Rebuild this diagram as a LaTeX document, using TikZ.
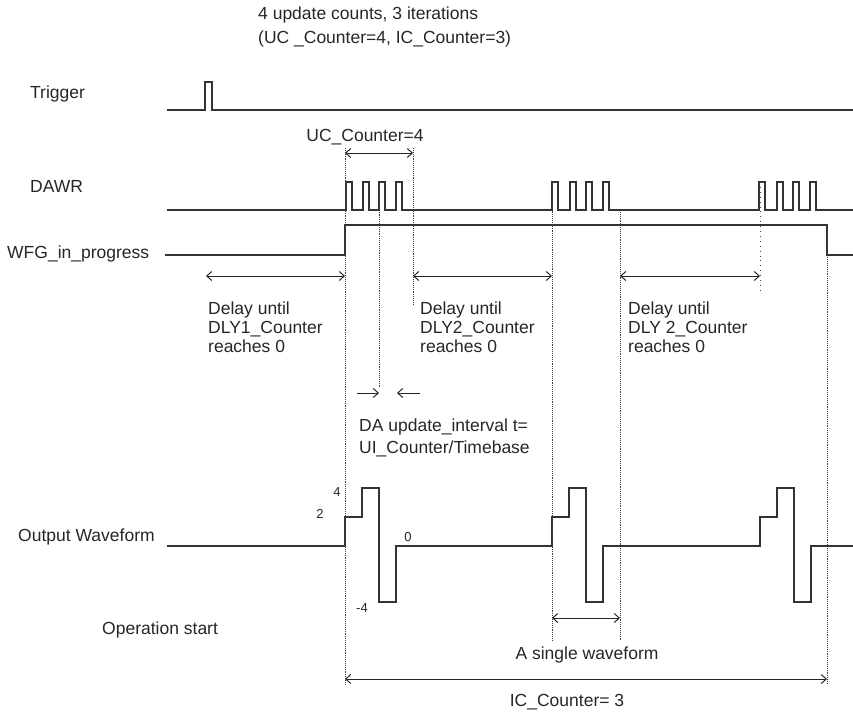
\documentclass[tikz,border=0pt]{standalone}
\usepackage{fontspec}
\setmainfont{Liberation Sans}
\usetikzlibrary{arrows.meta}
\begin{document}
\begin{tikzpicture}[x=1pt,y=-1pt,
  sig/.style={line width=1.3pt, draw=black!80, line join=miter},
  guide/.style={densely dotted, line width=0.9pt, draw=black!75},
  dimarrow/.style={line width=1pt, draw=black!85, {Straight Barb[length=5pt,width=9pt]}-{Straight Barb[length=5pt,width=9pt]}},
  onearrow/.style={line width=1pt, draw=black!85, -{Straight Barb[length=5pt,width=9pt]}},
  lbl/.style={font=\fontsize{17.5}{20}\selectfont, text=black!85, inner sep=0pt},
  num/.style={font=\fontsize{13}{15}\selectfont, text=black!85, inner sep=0pt}]
\useasboundingbox (0,0) rectangle (853,712);

% --- titles and row labels
\node[lbl, anchor=base west] (t1) at (258,19) {4 update counts, 3 iterations};
\node[lbl, anchor=base west] (t2) at (258,43) {(UC \_Counter=4, IC\_Counter=3)};
\node[lbl, anchor=base west] (ltrig) at (30,98) {Trigger};
\node[lbl, anchor=base west] (ldawr) at (30,192) {DAWR};
\node[lbl, anchor=base west] (lwfg) at (7,258) {WFG\_in\_progress};
\node[lbl, anchor=base west] (lout) at (18,541) {Output Waveform};
\node[lbl, anchor=base west] (lop) at (102,634) {Operation start};

% --- signals
\draw[sig] (167,110) -- (205,110) -- (205,82) -- (212,82) -- (212,110) -- (853,110);
\draw[sig] (167,210)
  \foreach \r in {346,363,379,396,552,570,586,603,759,777,793,810}{ -- (\r,210) -- (\r,182) -- (\r+6,182) -- (\r+6,210)}
  -- (853,210);
\draw[sig] (165,255) -- (345,255) -- (345,225) -- (827,225) -- (827,255) -- (853,255);
\draw[sig] (167,546)
  \foreach \s in {345,552,760}{ -- (\s,546) -- (\s,517) -- (\s+17,517) -- (\s+17,488) -- (\s+34,488) -- (\s+34,602) -- (\s+51,602) -- (\s+51,546)}
  -- (853,546);

% --- dotted guides
\coordinate (g1t) at (345,148); \coordinate (g1b) at (345,684);
\coordinate (g2t) at (413,148); \coordinate (g2b) at (413,305);
\coordinate (g3t) at (379,185); \coordinate (g3b) at (379,388);
\coordinate (g4t) at (552,182); \coordinate (g4b) at (552,640);
\coordinate (g5t) at (620,210); \coordinate (g5b) at (620,640);
\coordinate (g6t) at (760,182); \coordinate (g6b) at (760,292);
\coordinate (g7t) at (827,225); \coordinate (g7b) at (827,684);
\draw[guide] (g1t) -- (g1b);
\draw[guide] (g2t) -- (g2b);
\draw[guide] (g3t) -- (g3b);
\draw[guide] (g4t) -- (g4b);
\draw[guide] (g5t) -- (g5b);
\draw[guide, loosely dotted] (g6t) -- (g6b);
\draw[guide] (g7t) -- (g7b);

% --- UC counter
\node[lbl, anchor=base] (uc) at (365,141) {UC\_Counter=4};
\coordinate (uca) at (345,153); \coordinate (ucb) at (413,153);
\draw[dimarrow] (uca) -- (ucb);

% --- delays
\coordinate (d1a) at (206,276); \coordinate (d1b) at (345,276);
\coordinate (d2a) at (413,276); \coordinate (d2b) at (552,276);
\coordinate (d3a) at (620,276); \coordinate (d3b) at (760,276);
\draw[dimarrow] (d1a) -- (d1b);
\draw[dimarrow] (d2a) -- (d2b);
\draw[dimarrow] (d3a) -- (d3b);
\node[lbl, anchor=north west, align=left, font=\fontsize{17.5}{19}\selectfont] (dl1) at (208,302) {Delay until\\DLY1\_Counter\\reaches 0};
\node[lbl, anchor=north west, align=left, font=\fontsize{17.5}{19}\selectfont] (dl2) at (420,302) {Delay until\\DLY2\_Counter\\reaches 0};
\node[lbl, anchor=north west, align=left, font=\fontsize{17.5}{19}\selectfont] (dl3) at (628,302) {Delay until\\DLY 2\_Counter\\reaches 0};

% --- update interval
\coordinate (ua) at (357,393); \coordinate (ub) at (379,393);
\coordinate (uc1) at (420,393); \coordinate (uc2) at (397,393);
\draw[onearrow] (ua) -- (ub);
\draw[onearrow] (uc1) -- (uc2);
\node[lbl, anchor=base west] (da1) at (359,431) {DA update\_interval t=};
\node[lbl, anchor=base west] (da2) at (359,453) {UI\_Counter/Timebase};

% --- level numbers
\node[num, anchor=base] (n4) at (337,496) {4};
\node[num, anchor=base] (n2) at (320,518) {2};
\node[num, anchor=base] (n0) at (408,541) {0};
\node[num, anchor=base] (nm4) at (362,612) {-4};

% --- single waveform and IC counter
\coordinate (sa) at (552,618); \coordinate (sb) at (620,618);
\draw[dimarrow] (sa) -- (sb);
\node[lbl, anchor=base] (sw) at (587,659) {A single waveform};
\coordinate (ia) at (345,679); \coordinate (ib) at (827,679);
\draw[dimarrow] (ia) -- (ib);
\node[lbl, anchor=base] (ic) at (567,706) {IC\_Counter= 3};
\end{tikzpicture}
\end{document}
